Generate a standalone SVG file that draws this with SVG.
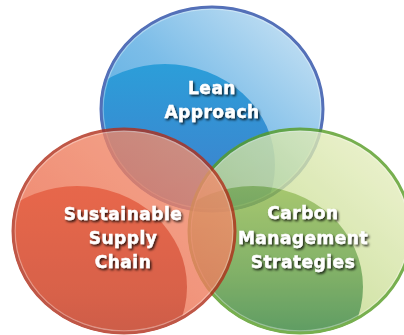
<svg xmlns="http://www.w3.org/2000/svg" width="404" height="335" viewBox="0 0 404 335">
<style>
.lbl{font-family:"DejaVu Sans","Liberation Sans",sans-serif;font-weight:bold;font-size:17px;letter-spacing:0.5px;fill:#ffffff;stroke:#ffffff;stroke-width:0.4;text-anchor:middle;filter:url(#shadow)}
.rim{fill:none;stroke:#ffffff;stroke-opacity:0.35;stroke-width:1.5}
</style>
<defs>
<filter id="shadow" x="-20%" y="-40%" width="140%" height="180%">
<feDropShadow dx="1.5" dy="1.8" stdDeviation="1.3" flood-color="#000000" flood-opacity="0.8"/>
</filter>
<clipPath id="cBlue"><ellipse cx="212" cy="109" rx="112" ry="103"/></clipPath>
<clipPath id="cRed"><ellipse cx="124" cy="231" rx="112" ry="103"/></clipPath>
<clipPath id="cGreen"><ellipse cx="300" cy="231" rx="112" ry="103"/></clipPath>
<linearGradient id="gBlueHi" x1="0" y1="1" x2="1" y2="0">
<stop offset="0" stop-color="#4aa6de"/><stop offset="0.5" stop-color="#7cbde8"/><stop offset="1" stop-color="#d4e8f6"/>
</linearGradient>
<linearGradient id="gBlueIn" x1="0" y1="0" x2="0" y2="1">
<stop offset="0" stop-color="#2c9ed9"/><stop offset="0.5" stop-color="#3a88d0"/><stop offset="1" stop-color="#4568bb"/>
</linearGradient>
<linearGradient id="gRedHi" x1="0" y1="1" x2="1" y2="0">
<stop offset="0" stop-color="#ea6042"/><stop offset="1" stop-color="#f29676"/>
</linearGradient>
<linearGradient id="gRedIn" x1="0" y1="0" x2="0" y2="1">
<stop offset="0" stop-color="#e2421f"/><stop offset="0.55" stop-color="#ce3a1c"/><stop offset="1" stop-color="#ac2e1a"/>
</linearGradient>
<linearGradient id="gGreenHi" x1="0" y1="1" x2="1" y2="0">
<stop offset="0" stop-color="#9cc262"/><stop offset="0.5" stop-color="#cde09a"/><stop offset="1" stop-color="#eef3cc"/>
</linearGradient>
<linearGradient id="gGreenIn" x1="0" y1="0" x2="0" y2="1">
<stop offset="0" stop-color="#92ba4c"/><stop offset="0.45" stop-color="#609c42"/><stop offset="1" stop-color="#0f6d38"/>
</linearGradient>
</defs>

<g id="node-lean">
<g>
<ellipse cx="212" cy="109" rx="112" ry="103" fill="url(#gBlueHi)"/>
<ellipse cx="165" cy="165" rx="110" ry="101" fill="url(#gBlueIn)" clip-path="url(#cBlue)"/>
<ellipse class="rim" cx="212" cy="109" rx="109" ry="100"/>
<ellipse cx="212" cy="109" rx="111" ry="102" fill="none" stroke="#5470b8" stroke-width="3"/>
</g>
<text class="lbl" x="212" y="94">Lean</text>
<text class="lbl" x="212" y="118">Approach</text>
</g>

<g id="node-carbon">
<g opacity="0.8">
<ellipse cx="300" cy="231" rx="112" ry="103" fill="url(#gGreenHi)"/>
<ellipse cx="253" cy="287" rx="110" ry="101" fill="url(#gGreenIn)" clip-path="url(#cGreen)"/>
<ellipse class="rim" cx="300" cy="231" rx="109" ry="100"/>
<ellipse cx="300" cy="231" rx="111" ry="102" fill="none" stroke="#569c24" stroke-width="3"/>
</g>
<text class="lbl" x="303" y="219">Carbon</text>
<text class="lbl" x="303" y="244">Management</text>
<text class="lbl" x="303" y="268">Strategies</text>
</g>

<g id="node-supply">
<g opacity="0.8">
<ellipse cx="124" cy="231" rx="112" ry="103" fill="url(#gRedHi)"/>
<ellipse cx="77" cy="287" rx="110" ry="101" fill="url(#gRedIn)" clip-path="url(#cRed)"/>
<ellipse class="rim" cx="124" cy="231" rx="109" ry="100"/>
<ellipse cx="124" cy="231" rx="111" ry="102" fill="none" stroke="#b02e1a" stroke-width="3"/>
</g>
<text class="lbl" x="123" y="220">Sustainable</text>
<text class="lbl" x="123" y="244">Supply</text>
<text class="lbl" x="123" y="268">Chain</text>
</g>
</svg>
